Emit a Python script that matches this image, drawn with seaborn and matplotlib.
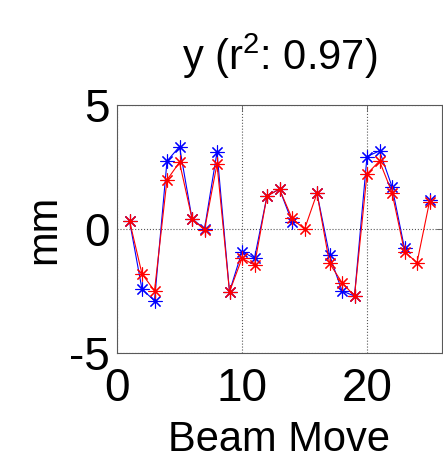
import numpy as np
import pandas as pd
import matplotlib
matplotlib.use("Agg")
import matplotlib.pyplot as plt
import seaborn as sns

# Beam move index and the two y-displacement series (mm)
beam_move = list(range(1, 26))
measured_y = [0.33, -2.43, -2.89, 2.74, 3.32, 0.42, 0.00, 3.10, -2.53, -0.91,
              -1.18, 1.33, 1.61, 0.29, np.nan, 1.44, -1.05, -2.50, -2.70, 2.92,
              3.15, 1.71, -0.78, np.nan, 1.15]
predicted_y = [0.33, -1.81, -2.49, 1.98, 2.69, 0.42, -0.04, 2.62, -2.53, -1.18,
               -1.45, 1.33, 1.61, 0.43, -0.01, 1.44, -1.38, -2.16, -2.70, 2.22,
               2.74, 1.47, -0.91, -1.36, 1.10]
x_ticks = [0, 10, 20]
y_ticks = [-5, 0, 5]
title_text = "y (r$^2$: 0.97)"

sns.set_style("white")
plt.rcParams["font.family"] = ["Liberation Sans", "DejaVu Sans"]
plt.rcParams["mathtext.fontset"] = "custom"
plt.rcParams["mathtext.rm"] = "Liberation Sans"
plt.rcParams["mathtext.it"] = "Liberation Sans:italic"
plt.rcParams["axes.unicode_minus"] = False
for key in ("text.color", "axes.labelcolor", "xtick.labelcolor", "ytick.labelcolor"):
    plt.rcParams[key] = "black"

fig = plt.figure(figsize=(4.43, 4.65), dpi=100)
ax = fig.add_axes([117 / 443, 1 - 353 / 465, 325 / 443, 248 / 465])

asterisk = (8, 2, 0)
for values, colr in [(measured_y, "#0000ff"), (predicted_y, "#ff0000")]:
    df = pd.DataFrame({"move": beam_move, "mm": values})
    # missing samples split the trace into separate runs (gaps in the line)
    df["run"] = df["mm"].isna().cumsum()
    df = df.dropna()
    sns.lineplot(data=df, x="move", y="mm", units="run", estimator=None, ax=ax,
                 color=colr, marker=asterisk, markersize=10,
                 markeredgecolor=colr, markeredgewidth=0.8, linewidth=0.8)

ax.set_xlim(0, 26)
ax.set_ylim(-5, 5)
ax.set_xticks(x_ticks)
ax.set_yticks(y_ticks)
ax.tick_params(axis="both", direction="in", length=4, width=0.6, color="0.35",
               top=True, right=True, labelsize=33)
ax.tick_params(axis="x", pad=10)
ax.tick_params(axis="y", pad=5)
ax.grid(True, linestyle=":", color="0.35", linewidth=0.8)
for sp in ax.spines.values():
    sp.set_visible(True)
    sp.set_color("0.35")
    sp.set_linewidth(0.8)

ax.set_xlabel("Beam Move", fontsize=30)
ax.set_ylabel("mm", fontsize=30)
ax.xaxis.set_label_coords(0.5, -0.27)
ax.yaxis.set_label_coords(-0.163, 0.5)
ax.set_title(title_text, fontsize=30, y=1.14, pad=0)

fig.savefig("out.png", dpi=100, facecolor="white")
